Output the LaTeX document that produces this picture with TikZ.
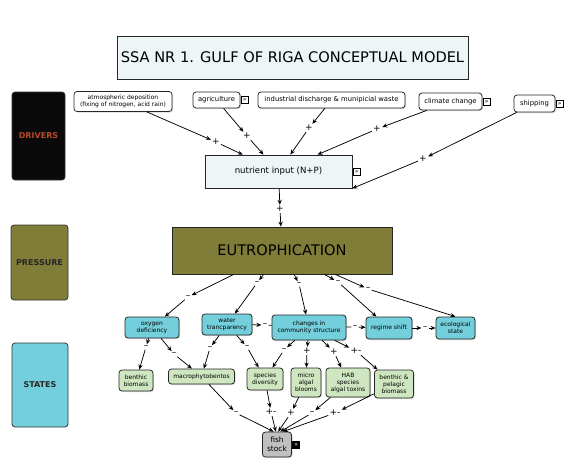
\documentclass[tikz,border=0pt]{standalone}
\usepackage{fontspec}
\setmainfont{DejaVu Sans}
\usepackage{tikz}
\usetikzlibrary{arrows.meta,positioning,shadows}
\definecolor{drivercol}{RGB}{10,10,10}
\definecolor{drivertext}{RGB}{186,72,42}
\definecolor{pressurecol}{RGB}{127,125,55}
\definecolor{statecol}{RGB}{116,207,220}
\definecolor{subcol}{RGB}{206,231,193}
\definecolor{boxcol}{RGB}{238,245,247}
\definecolor{fishcol}{RGB}{192,192,192}
\tikzset
{
    category/.style = {draw=black!80, rounded corners=3pt, align=center, font=\fontsize{8}{9}\selectfont\bfseries},
    concept/.style  = {draw=black!85, rounded corners=3pt, align=center, inner sep=1pt, fill=white, font=\fontsize{6.8}{8}\selectfont, drop shadow={shadow xshift=1pt, shadow yshift=-1pt, fill=black!30}},
    state/.style    = {concept, fill=statecol, line width=0.8pt, font=\fontsize{6}{7}\selectfont},
    substate/.style = {concept, fill=subcol, line width=0.8pt, font=\fontsize{6}{7}\selectfont}
}

\begin{document}
\begin{tikzpicture}[->,>={Stealth[length=5pt,width=4.2pt]}, x=1pt, y=-1pt, line width=0.75pt]
    \tikzstyle{sign}=[inner sep=1pt, font=\fontsize{9}{9}\selectfont]
    \tikzstyle{more}=[draw, fill=white, line width=0.5pt, inner sep=0.3pt, minimum size=7pt, font=\fontsize{6}{6}\selectfont]
    \useasboundingbox (0,0) rectangle (573,474);

    % title and categories
    \node [concept, fill=boxcol, rounded corners=0pt, minimum width=351pt, minimum height=43pt, font=\fontsize{14.6}{16}\selectfont] (title) at (292.5,57.5) {SSA NR 1. GULF OF RIGA CONCEPTUAL MODEL};
    \node [category, fill=drivercol, text=drivertext, minimum width=53pt, minimum height=88pt] (drivers) at (38.5,136) {DRIVERS};
    \node [category, fill=pressurecol, text=black!85, minimum width=57pt, minimum height=75pt] (pressure) at (39.5,262.5) {PRESSURE};
    \node [category, fill=statecol, text=black!85, minimum width=56pt, minimum height=84pt] (states) at (40,385) {STATES};

    % drivers
    \node [concept, minimum width=98pt, minimum height=20pt, font=\fontsize{6}{6.5}\selectfont] (atmos) at (123,101.5) {atmospheric deposition \\ (fixing of nitrogen, acid rain)};
    \node [concept, minimum width=47pt, minimum height=16pt] (agri) at (216.5,100) {agriculture};
    \node [more, right=0.5pt of agri] (agri-more) {»};
    \node [concept, minimum width=147pt, minimum height=16pt] (industry) at (331.5,100) {industrial discharge \& munipicial waste};
    \node [concept, minimum width=63pt, minimum height=17pt] (climate) at (450.5,101.5) {climate change};
    \node [more, right=0.5pt of climate] (climate-more) {»};
    \node [concept, minimum width=41pt, minimum height=17pt] (ship) at (534.5,103.5) {shipping};
    \node [more, right=0.5pt of ship] (ship-more) {»};
    \node [concept, fill=boxcol, rounded corners=0pt, minimum width=147pt, minimum height=33pt, font=\fontsize{8.6}{10}\selectfont] (nutrient) at (278.5,171.5) {nutrient input (N+P)};
    \node [more, right=0.5pt of nutrient] (nutrient-more) {»};

    % pressure
    \node [concept, fill=pressurecol, rounded corners=0pt, minimum width=220pt, minimum height=47pt, font=\fontsize{14.6}{16}\selectfont] (eutro) at (282,250.5) {EUTROPHICATION};

    % states
    \node [state, minimum width=54pt, minimum height=21pt] (oxygen) at (152,327.5) {oxygen \\ deficiency};
    \node [state, minimum width=50pt, minimum height=21pt] (water) at (227,324.5) {water \\ trancparency};
    \node [state, minimum width=74pt, minimum height=25pt] (changes) at (309,327.5) {changes in \\ community structure};
    \node [state, minimum width=46pt, minimum height=22pt] (regime) at (389,328) {regime shift};
    \node [state, minimum width=39pt, minimum height=22pt] (eco) at (455.5,328) {ecological \\ state};
    \node [substate, minimum width=34pt, minimum height=21pt] (benthic) at (136,380.5) {benthic \\ biomass};
    \node [substate, minimum width=66pt, minimum height=15pt] (macro) at (201.5,376.5) {macrophytobentos};
    \node [substate, minimum width=36pt, minimum height=22pt] (species) at (265,379) {species \\ diversity};
    \node [substate, minimum width=30pt, minimum height=29pt] (micro) at (306,382.5) {micro \\ algal \\ blooms};
    \node [substate, minimum width=44pt, minimum height=29pt] (hab) at (348,382.5) {HAB \\ species \\ algal toxins};
    \node [substate, minimum width=39pt, minimum height=28pt] (pelagic) at (394,384) {benthic \& \\ pelagic \\ biomass};
    \node [concept, fill=fishcol, line width=0.8pt, minimum width=29pt, minimum height=25pt, font=\fontsize{7.5}{9}\selectfont] (fish) at (277,444.5) {fish \\ stock};
    \node [more, fill=black, text=white, right=0.5pt of fish] (fish-more) {»};

    % linking signs
    \node [sign] (s-atmos) at (216,142) {+};
    \node [sign] (s-agri) at (247,136) {+};
    \node [sign] (s-industry) at (309,128) {+};
    \node [sign] (s-climate) at (377,129) {+};
    \node [sign] (s-ship) at (423,159) {+};
    \node [sign] (s-nutrient) at (280,209) {+};
    \node [sign] (s-oxygen) at (188,297) {--};
    \node [sign] (s-water) at (257,283) {--};
    \node [sign] (s-changes) at (299,284) {--};
    \node [sign] (s-regime) at (338,282) {--};
    \node [sign] (s-eco) at (368,289) {--};
    \node [sign] (s-wc) at (265,325) {--};
    \node [sign] (s-cr) at (355,327) {--};
    \node [sign] (s-re) at (425,328) {--};
    \node [sign] (s-ob) at (146,347) {--};
    \node [sign] (s-om) at (174,354) {--};
    \node [sign] (s-wm) at (210,348) {--};
    \node [sign] (s-ws) at (247,347) {--};
    \node [sign] (s-cs) at (284,350) {--};
    \node [sign] (s-cm) at (307,351) {+};
    \node [sign] (s-ch) at (334,352) {+};
    \node [sign] (s-cp) at (356,351) {+-};
    \node [sign] (s-mf) at (236,413) {--};
    \node [sign] (s-sf) at (271,412) {+-};
    \node [sign] (s-af) at (291,413) {+};
    \node [sign] (s-hf) at (312,413) {--};
    \node [sign] (s-pf) at (335,413) {+-};

    % drivers to pressure
    \draw (atmos) -- (s-atmos);
    \draw (s-atmos) -- (nutrient);
    \draw (agri) -- (s-agri);
    \draw (s-agri) -- (nutrient);
    \draw (industry) -- (s-industry);
    \draw (s-industry) -- (nutrient);
    \draw (climate) -- (s-climate);
    \draw (s-climate) -- (nutrient);
    \draw (ship) -- (s-ship);
    \draw (s-ship) -- (nutrient.south east);
    \draw (nutrient) -- (s-nutrient);
    \draw (s-nutrient) -- (eutro);

    % pressure to states
    \draw (eutro) -- (s-oxygen);
    \draw (s-oxygen) -- (oxygen);
    \draw (eutro) -- (s-water);
    \draw (s-water) -- (water);
    \draw (eutro) -- (s-changes);
    \draw (s-changes) -- (changes);
    \draw (eutro) -- (s-regime);
    \draw (s-regime) -- (regime);
    \draw (eutro) -- (s-eco);
    \draw (s-eco) -- (eco.north);

    % among states
    \draw (water) -- (s-wc);
    \draw [-] (s-wc) -- (changes);
    \draw [-] (changes) -- (s-cr);
    \draw (s-cr) -- (regime);
    \draw (regime) -- (s-re);
    \draw (s-re) -- (eco);
    \draw (oxygen) -- (s-ob);
    \draw (s-ob) -- (benthic);
    \draw (oxygen) -- (s-om);
    \draw (s-om) -- (macro);
    \draw (water) -- (s-wm);
    \draw (s-wm) -- (macro);
    \draw (water) -- (s-ws);
    \draw (s-ws) -- (species);
    \draw (changes) -- (s-cs);
    \draw (s-cs) -- (species);
    \draw (changes) -- (s-cm);
    \draw (s-cm) -- (micro);
    \draw (changes) -- (s-ch);
    \draw (s-ch) -- (hab);
    \draw (changes) -- (s-cp);
    \draw (s-cp) -- (pelagic);

    % to fish stock
    \draw (macro) -- (s-mf);
    \draw (s-mf) -- (fish.105);
    \draw (species) -- (s-sf);
    \draw (s-sf) -- (fish.95);
    \draw (micro) -- (s-af);
    \draw (s-af) -- (fish.85);
    \draw (hab) -- (s-hf);
    \draw (s-hf) -- (fish.75);
    \draw (pelagic) -- (s-pf);
    \draw (s-pf) -- (fish.65);
\end{tikzpicture}
\end{document}
